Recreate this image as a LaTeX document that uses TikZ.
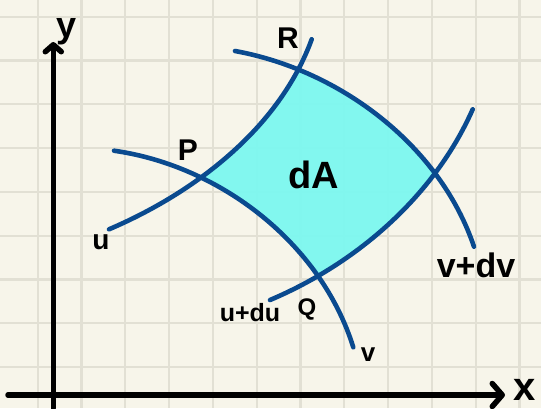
\documentclass[tikz,border=0pt]{standalone}
\usepackage{fontspec}
\setmainfont{Liberation Sans}
\usetikzlibrary{arrows.meta}
\definecolor{bgc}{RGB}{247,245,234}
\definecolor{gridc}{RGB}{226,224,212}
\definecolor{curvec}{RGB}{10,74,143}
\definecolor{fillc}{RGB}{122,248,240}
\begin{document}
\begin{tikzpicture}[x=1pt,y=-1pt,
  curve/.style={line width=4.6pt, draw=curvec, line cap=round},
  axis/.style={line width=5.5pt, draw=black, line cap=round},
  gridline/.style={draw=gridc, line width=2.2pt},
  lbl/.style={text=black, inner sep=0pt, font=\bfseries}]
\useasboundingbox (0,0) rectangle (541,408);
\fill[bgc] (0,0) rectangle (541,408);
\foreach \i in {0,...,11} \draw[gridline] ({37.7+43.8*\i},0) -- ({37.7+43.8*\i},408);
\foreach \j in {0,...,8} \draw[gridline] (0,{16.7+43.8*\j}) -- (541,{16.7+43.8*\j});
% curve end points
\coordinate (u0) at (109,229.3);   \coordinate (u1) at (311.7,39.3);
\coordinate (v0) at (114,150.7);   \coordinate (v1) at (353.3,347.3);
\coordinate (w0) at (270,300);     \coordinate (w1) at (472.7,109.3);
\coordinate (z0) at (235,51);      \coordinate (z1) at (474,246.7);
% filled patch dA
\begin{scope}
\clip (u0) .. controls (193.6,193.2) and (279,129) .. (u1) -- (700,39.3) -- (700,600) -- (109,600) -- cycle;
\clip (v0) .. controls (220.6,165.9) and (320.9,243.4) .. (v1) -- (700,347.3) -- (700,-100) -- (114,-100) -- cycle;
\clip (w0) .. controls (356.8,263.3) and (434.3,196.1) .. (w1) -- (472.7,-100) -- (-100,-100) -- (-100,300) -- cycle;
\clip (z0) .. controls (339.4,70) and (439.6,144.6) .. (z1) -- (474,600) -- (-100,600) -- (-100,51) -- cycle;
\fill[fillc, opacity=0.93] (0,0) rectangle (541,408);
\end{scope}
% curves
\draw[curve] (u0) .. controls (193.6,193.2) and (279,129) .. (u1);
\draw[curve] (v0) .. controls (220.6,165.9) and (320.9,243.4) .. (v1);
\draw[curve] (w0) .. controls (356.8,263.3) and (434.3,196.1) .. (w1);
\draw[curve] (z0) .. controls (339.4,70) and (439.6,144.6) .. (z1);
% axes
\coordinate (xs) at (8,395);
\coordinate (xe) at (505,395);
\coordinate (ys) at (53.3,408);
\coordinate (ye) at (53.3,42);
\draw[axis, -{Straight Barb[length=10pt,width=23pt,round]}] (xs) -- (xe);
\draw[axis, -{Straight Barb[length=7pt,width=16pt,round]}] (ys) -- (ye);
% labels
\node[lbl, font=\bfseries\fontsize{40}{40}\selectfont] (lx) at (525,390) {x};
\node[lbl, font=\bfseries\fontsize{36}{36}\selectfont] (ly) at (67,32) {y};
\node[lbl, font=\bfseries\fontsize{30}{30}\selectfont] (lP) at (188,150) {P};
\node[lbl, font=\bfseries\fontsize{30}{30}\selectfont] (lR) at (288,38) {R};
\node[lbl, font=\bfseries\fontsize{24}{24}\selectfont] (lQ) at (307,309) {Q};
\node[lbl, font=\bfseries\fontsize{38}{38}\selectfont] (ldA) at (314,175) {dA};
\node[lbl, font=\bfseries\fontsize{28}{28}\selectfont] (lu) at (101,242) {u};
\node[lbl, font=\bfseries\fontsize{26}{26}\selectfont] (lv) at (368,355) {v};
\node[lbl, font=\bfseries\fontsize{25}{25}\selectfont] (ludu) at (250,313) {u+du};
\node[lbl, font=\bfseries\fontsize{34}{34}\selectfont] (lvdv) at (476,265) {v+dv};
\end{tikzpicture}
\end{document}
